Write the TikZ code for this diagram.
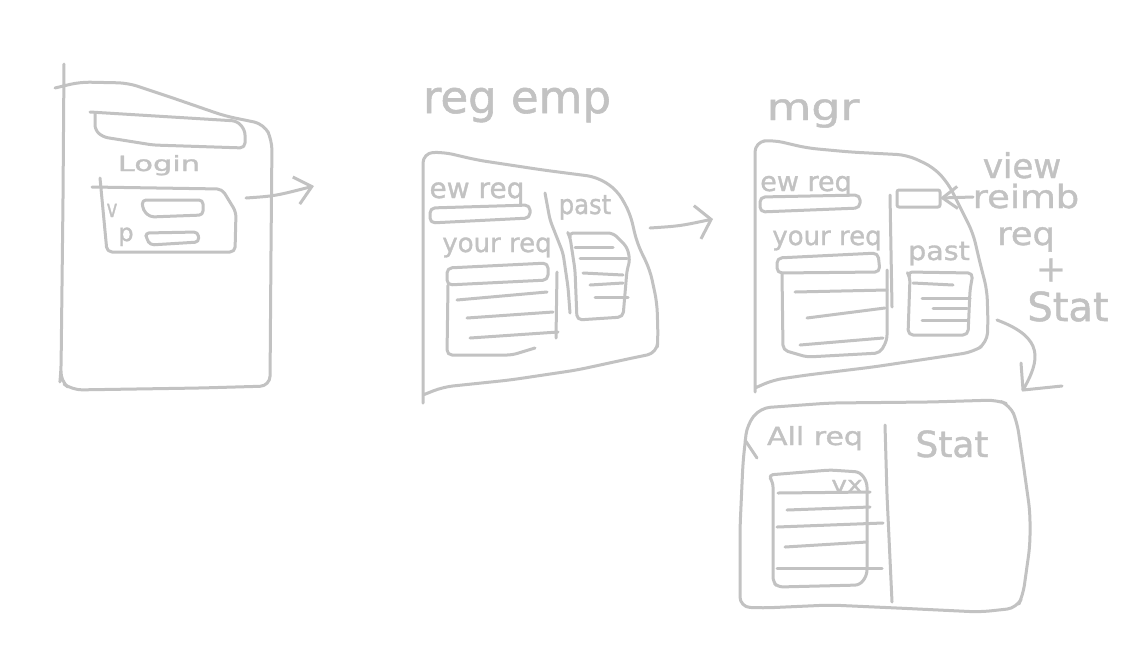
\documentclass[tikz,border=0pt]{standalone}
\usepackage{fontspec}
\setmainfont[FakeBold=1.2]{DejaVu Sans}
\usepackage{graphicx}
\usetikzlibrary{arrows.meta}
\definecolor{penc}{RGB}{194,194,194}
\newcommand\fs[1]{\fontsize{#1}{#1}\selectfont}
\newcommand\hsx[2]{\scalebox{#1}[1]{#2}}
\begin{document}
\begin{tikzpicture}[x=1pt,y=-1pt,
  pen/.style={draw=penc,line width=3pt,line cap=round,line join=round,rounded corners=5pt},
  big/.style={pen,rounded corners=10pt},
  conn/.style={draw=penc,line width=3pt,line cap=round,line join=round},
  lbl/.style={text=penc,inner sep=0pt,anchor=base}]
\fill[white] (0,0) rectangle (1129,657);
\useasboundingbox (0,0) rectangle (1129,657);

% ---------- screen 1: login ----------
\draw[big] (64,64) -- (63,200) -- (61,372) -- (60,381) -- (72,390) -- (200,388) -- (270,386) -- (271,250) -- (272,140) -- (264,124) -- (225,116) -- (170,97) -- (128,83) -- (80,82) -- (55,88);
\draw[pen] (90,112) -- (237,121) -- (245,130) -- (245,148) -- (153,145) -- (103,137) -- (95,130) -- (95,113);
\draw[pen] (100,178) -- (107,252) -- (235,252) -- (236,212) -- (222,189) -- (92,187);
\draw[pen,rounded corners=4pt] (142,200) -- (203,200) -- (203,215) -- (150,217) -- (143,210) -- cycle;
\draw[pen,rounded corners=4pt] (145,233) -- (198,232) -- (199,242) -- (150,245) -- (147,239) -- cycle;
\node[lbl,font=\fs{21}] (login) at (159,171) {\hsx{1.45}{Login}};
\node[lbl,font=\fs{24}] (lv) at (112,217) {\hsx{0.75}{v}};
\node[lbl,font=\fs{24}] (lp) at (126,241) {p};

\coordinate (l-out) at (246,198);
\coordinate (e-in) at (314,186);
\draw[conn,-{Straight Barb[length=16pt,width=28pt]}] (l-out) .. controls (275,196) .. (e-in);

% ---------- screen 2: reg emp ----------
\node[lbl,font=\fs{45}] (t-regemp) at (517,113) {reg emp};
\draw[big] (423,403) -- (423,153) -- (443,152) -- (477,160) -- (543,170) -- (597,177) -- (617,190) -- (630,213) -- (637,243) -- (650,270) -- (657,303) -- (658,337) -- (657,353) -- (637,357) -- (577,370) -- (510,380) -- (443,387) -- (423,395);
\node[lbl,font=\fs{28}] (e-new) at (477,198) {ew req};
\draw[pen] (430,208) -- (530,205) -- (530,218) -- (430,223) -- cycle;
\draw[pen] (545,193) -- (550,220) -- (563,253) -- (568,287) -- (570,313);
\node[lbl,font=\fs{27}] (e-past) at (585,214) {\hsx{0.9}{past}};
\draw[pen] (570,237) -- (568,233) -- (613,233) -- (627,247) -- (630,260) -- (627,270) -- (623,317) -- (577,320) -- (575,270) -- cycle;
\draw[pen] (575,247) -- (613,247);
\draw[pen] (580,258) -- (627,258);
\draw[pen] (583,273) -- (623,275);
\draw[pen] (590,285) -- (623,283);
\draw[pen] (595,297) -- (628,297);
\node[lbl,font=\fs{26}] (e-your) at (497,252) {your req};
\draw[pen] (447,268) -- (548,263) -- (548,280) -- (447,285) -- cycle;
\draw[pen] (557,272) -- (556,338);
\draw[pen] (448,285) -- (447,355) -- (512,355) -- (535,348);
\draw[pen] (457,300) -- (547,292);
\draw[pen] (467,318) -- (553,312);
\draw[pen] (470,338) -- (558,332);

\coordinate (e-out) at (650,228);
\coordinate (m-in) at (713,219);
\draw[conn,-{Straight Barb[length=14pt,width=34pt]}] (e-out) .. controls (680,226) .. (m-in);

% ---------- screen 3: mgr ----------
\node[lbl,font=\fs{37}] (t-mgr) at (813,120) {\hsx{1.24}{mgr}};
\draw[big] (755,392) -- (755,142) -- (773,140) -- (807,148) -- (850,152) -- (907,155) -- (933,167) -- (948,183) -- (963,213) -- (973,233) -- (980,263) -- (987,290) -- (988,323) -- (987,343) -- (973,352) -- (940,357) -- (873,367) -- (807,375) -- (773,380) -- (755,388);
\node[lbl,font=\fs{27}] (m-new) at (806,191) {ew req};
\draw[pen] (760,197) -- (860,195) -- (860,208) -- (760,212) -- cycle;
\draw[pen] (890,195) -- (892,307);
\draw[pen,rounded corners=2pt] (897,190) -- (940,190) -- (940,207) -- (897,207) -- cycle;
\node[lbl,font=\fs{26}] (m-your) at (827,245) {your req};
\draw[pen] (777,258) -- (878,253) -- (880,272) -- (777,273) -- cycle;
\draw[pen] (782,273) -- (783,350) -- (807,357) -- (880,353) -- (887,340) -- (887,270);
\draw[pen] (795,292) -- (887,290);
\draw[pen] (807,318) -- (885,308);
\draw[pen] (800,345) -- (883,338);
\node[lbl,font=\fs{26}] (m-past) at (939,260) {\hsx{1.1}{past}};
\draw[pen] (910,277) -- (907,272) -- (973,273) -- (970,290) -- (968,335) -- (908,335) -- cycle;
\draw[pen] (913,283) -- (953,285);
\draw[pen] (922,298) -- (970,298);
\draw[pen] (933,308) -- (967,308);
\draw[pen] (922,320) -- (967,320);

% note
\node[lbl,font=\fs{34}] (n-view) at (1022,178) {view};
\node[lbl,font=\fs{32}] (n-reimb) at (1026,208) {\hsx{1.15}{reimb}};
\node[lbl,font=\fs{32}] (n-req) at (1026,245) {\hsx{1.1}{req}};
\node[text=penc,inner sep=0pt,font=\fs{36}] (n-plus) at (1051,270) {+};
\node[lbl,font=\fs{40}] (n-stat) at (1068,321) {Stat};
\coordinate (v-tail) at (973,197);
\coordinate (v-box) at (940,198);
\draw[conn,-{Straight Barb[length=15pt,width=22pt]}] (v-tail) -- (v-box);

\coordinate (m-out) at (997,320);
\coordinate (s-in) at (1023,390);
\draw[conn] (m-out) .. controls (1045,338) and (1040,360) .. (s-in);
\draw[conn] (1021,363) -- (s-in) -- (1062,386);

% ---------- screen 4: all req / stat ----------
\draw[big] (760,408) -- (830,403) -- (930,402) -- (997,400) -- (1010,405) -- (1017,422) -- (1023,462) -- (1030,512) -- (1030,545) -- (1023,595) -- (1017,608) -- (980,612) -- (897,608) -- (830,605) -- (763,608) -- (740,607) -- (740,528) -- (743,462) -- (747,425) -- cycle;
\draw[pen] (745,440) -- (757,458);
\draw[pen] (885,425) -- (887,495) -- (892,602);
\node[lbl,font=\fs{25}] (a-all) at (815,445) {\hsx{1.2}{All req}};
\node[lbl,font=\fs{36}] (a-stat) at (952,457) {Stat};
\draw[pen] (768,475) -- (773,482) -- (773,582) -- (778,587) -- (860,585) -- (867,575) -- (867,482) -- (860,472) -- (830,470) -- cycle;
\node[lbl,font=\fs{22}] (a-vx) at (847,492) {\hsx{1.2}{vx}};
\draw[pen] (778,493) -- (870,492);
\draw[pen] (787,510) -- (870,507);
\draw[pen] (777,527) -- (883,523);
\draw[pen] (785,547) -- (867,542);
\draw[pen] (777,568) -- (882,568);
\end{tikzpicture}
\end{document}
